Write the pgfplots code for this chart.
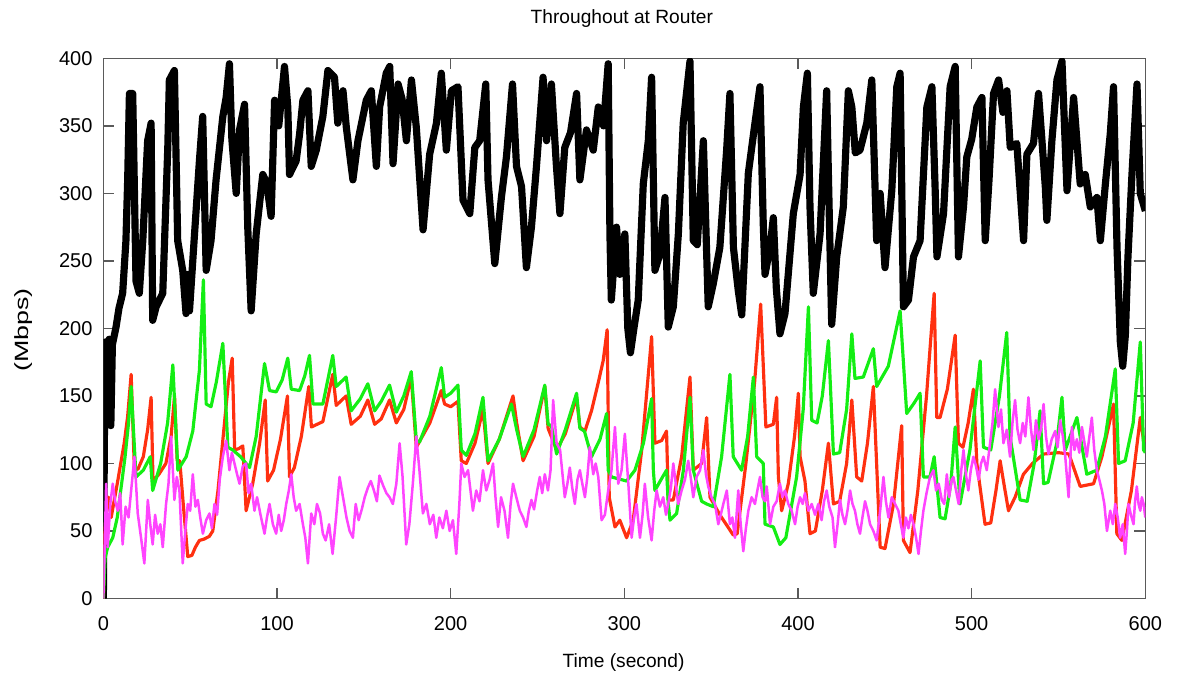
\documentclass[border=0pt]{standalone}
\usepackage{fontspec}
\setmainfont{Liberation Sans}
\usepackage{graphicx}
\usepackage{pgfplots}
\pgfplotsset{compat=1.18}
\definecolor{axisGray}{HTML}{5A5A5A}
\definecolor{flowRed}{HTML}{FF3010}
\definecolor{flowGreen}{HTML}{14EE14}
\definecolor{flowMag}{HTML}{FF44FF}

\begin{document}
\begin{tikzpicture}
\useasboundingbox (-62pt,-46pt) rectangle (644pt,359pt);
\begin{axis}[
  scale only axis,
  width=625pt,
  height=324pt,
  xmin=0, xmax=600,
  ymin=0, ymax=400,
  xtick={0,100,...,600},
  ytick={0,50,...,400},
  tick align=inside,
  major tick length=6.5pt,
  axis line style={draw=axisGray, line width=0.8pt},
  tick style={draw=axisGray, line width=0.8pt},
  /pgf/number format/assume math mode=true,
  xticklabel style={font=\fontsize{12}{14}\selectfont, yshift=-7.5pt},
  yticklabel style={font=\fontsize{12}{14}\selectfont, xshift=-3pt},
  line join=round,
]
% total throughput (black)
\addplot[black, line width=4.3pt] coordinates {
(0,0) (0.6,120) (1.2,190) (2.3,183) (3.3,192) (4.3,128) (5.2,188) (7.3,201) (9,215) (11.1,226) (13,265) (14,310) (15,374) (16.9,374) (18.8,235) (20.7,226) (22.7,265) (25.5,339) (27.5,352) (28.4,206) (30.4,216) (34.2,226) (37.1,334) (38,384) (40.9,391) (42.8,265) (45.7,243) (47.6,211) (48.6,240) (49.6,213) (52.4,268) (55.3,324) (57.2,357) (59.2,243) (62,265) (64.9,310) (68.8,357) (70.7,371) (72.6,396) (74,340) (76.5,300) (78.4,347) (81.3,366) (83.2,273) (85.1,213) (88,270) (91.8,314) (94,308) (96.6,283) (98.6,369) (101,350) (104.3,394) (106.2,364) (107.2,314) (111,324) (113,344) (114.9,369) (117.8,376) (119.7,320) (122.6,332) (126.4,357) (129.3,391) (133.1,386) (135,352) (138,376) (139.9,349) (143.7,310) (146.6,339) (151.4,369) (154.3,376) (157.2,320) (159.1,364) (162.9,389) (164.9,394) (166.8,322) (169.7,381) (172,370) (174.5,339) (177.4,384) (180.2,349) (184.1,273) (187.9,329) (191.8,352) (194.6,389) (197.5,332) (200.4,376) (204.2,379) (207.1,295) (211,285) (213.9,334) (216.7,339) (220.2,381) (221.5,310) (225.4,248) (229.2,297) (232.1,327) (235.6,381) (237.9,320) (240.8,305) (243.6,245) (246.5,275) (249.4,320) (253.2,386) (255.2,339) (258,381) (260.9,320) (262.9,285) (265.7,334) (269,345) (272.5,374) (274.4,310) (278.2,347) (282.1,332) (285,364) (288,350) (290.7,396) (291.7,270) (292.5,221) (295.5,275) (297.4,240) (300.3,270) (302,200) (303.5,182) (305.5,200) (308,221) (310.9,307) (313.8,339) (315.7,386) (317.6,243) (320.5,255) (323.4,297) (325.3,201) (328.2,216) (331.1,270) (333.9,352) (337.8,398) (339.7,265) (342,262) (345.5,339) (348.3,216) (351.2,233) (355,260) (358.9,332) (360.8,374) (362.8,260) (365.6,228) (367.6,210) (371.4,315) (375,350) (378.1,379) (380,277) (381,240) (383.9,260) (385.8,282) (387.5,230) (389.6,196) (392.5,211) (397.3,285) (401.2,314) (403.1,364) (405.4,389) (406.9,290) (408.8,226) (412.7,270) (416.5,376) (417.5,314) (419.4,203) (422.3,253) (426.1,290) (429,376) (431,364) (433,330) (435.7,332) (439.6,352) (442.5,384) (445.3,265) (447.3,300) (450.1,245) (454,302) (456.9,379) (458.8,389) (460.7,216) (463.6,221) (466.5,253) (470.3,265) (474.2,364) (477.1,379) (479,302) (480,253) (483.8,285) (487.6,379) (490.5,394) (492.4,253) (495.3,290) (497.2,327) (500,340) (503,364) (505.9,371) (507.8,265) (510,310) (512.6,374) (515.5,384) (518,360) (520.3,376) (522.2,334) (526,337) (529.9,265) (531.8,329) (535.6,337) (538.5,374) (542.4,305) (543.3,280) (546.2,339) (549.1,384) (552,398) (554.9,302) (558.7,371) (562.5,307) (565.4,314) (568.3,290) (572.1,297) (574.1,265) (577,307) (579.8,344) (581.7,379) (583.7,260) (585.6,190) (587,172) (588.5,195) (590,253) (592.3,314) (595.2,381) (597.1,300) (600,287)
};
% flow 1 (red)
\addplot[flowRed, line width=1.9pt] coordinates {
(0,0) (0.8,45) (1.5,62) (3,75) (4.5,60) (6.3,73) (8,85) (10,100) (12,115) (14,135) (16,166) (17.9,95) (20,96) (23,105) (25.5,125) (27.5,149) (28.6,87) (32,92) (36,100) (39,120) (41,150) (42.5,102) (44,102) (46,70) (48.6,31) (51,32) (53,38) (55.3,43) (58,44) (61,46) (63,50) (66,80) (69,120) (72,160) (74.2,178) (75.6,110) (78,111) (80.3,113) (82.2,65) (86,85) (90,115) (93.2,147) (94.6,87) (98,95) (102,118) (106,150) (107.2,90) (110,97) (114,120) (118.3,157) (119.8,127)
(126.4,131) (132.1,166) (134.1,143) (139.8,150) (142.7,129) (148,135) (152.3,147) (156.2,129) (160,133) (164.8,147) (168.7,130) (173,140) (177.3,164) (180.2,112) (188,130) (194.6,154) (196.5,144) (200,142) (204.2,146) (206.1,102) (209,100) (214,115) (218.6,140) (221.5,100) (228,118) (235.9,150) (238,130) (241.7,102)
(248,120) (254.2,157) (256.1,126) (261,110) (266,122) (272.5,149) (274.4,127) (277.3,124) (281.1,139) (285,160) (287.8,176) (290.1,199) (291.3,75) (294.6,53) (297.4,58) (301.3,45) (305.1,58) (310,110) (315.7,194) (317.6,115) (321.5,117) (324.3,124) (325.3,73) (328.2,73) (333,105) (337.8,164) (339.7,95) (344.5,100) (347.4,134) (349.3,75) (355,62) (362.7,47) (365,48) (370,100) (375,160) (378.5,218) (381.5,127) (385.8,129) (387.7,149) (388.7,90) (390.6,65) (394.4,85) (398,120) (400.2,152) (401.2,105) (404,87) (406.9,48) (410,50) (414,80) (417.5,115) (420.4,70) (424,72) (428,100) (431,147) (433.8,90) (436.7,87) (440,115) (443.4,157) (447.3,38) (450.1,37) (455,70) (459.7,128) (460.7,43) (464.5,34) (469,80) (474,150) (478.4,226) (479.9,134) (481.8,134) (486,155) (490.5,195) (492.4,115) (495,112) (498,130) (501,155) (503,100) (507.7,55) (511,56) (514,80) (516.4,102) (518.3,87) (521.2,65) (525,75) (529.8,92) (535,100) (541.4,107) (550,108) (556,107) (562.5,83) (570.2,85) (575,105) (581.7,144) (583.6,48) (586.5,43) (592,80) (597.1,134) (599,117) (600,116)
};
% flow 2 (green)
\addplot[flowGreen, line width=1.9pt] coordinates {
(0,0) (1,30) (2.5,38) (5.4,45) (8,60) (10,80) (12.5,105) (14.5,130) (16,157) (18.8,90) (23,95) (27,105) (28.4,80) (33,100) (37,130) (40,173) (42.9,95) (47.7,105) (51.5,124) (55.3,169) (57.6,236) (59.2,144) (62,142) (65,160) (68.8,189) (71.7,112) (74.5,110) (79,105) (84.2,97) (88,120) (92.8,174) (95.7,154) (99.5,153) (103,162) (106.2,178) (108.2,155) (113,154) (116,165) (118.7,180) (120.7,144)
(126.4,144) (132.1,180) (134.1,157) (139.8,164) (142.7,139) (148,148) (152.3,159) (156.2,139) (160,146) (164.8,158) (168.7,138) (173,150) (177.3,168) (180.2,117) (182.1,116) (188,135) (194.6,171) (196.5,149) (200,152) (204.2,158) (206.1,110) (209,106) (214,122) (218.6,149) (221.5,102) (228,118) (235,144) (238,125) (241.7,105)
(248,125) (254.2,158) (256.1,129) (258,128) (261,107) (266,125) (272.5,152) (274.4,126) (277,124) (281.1,105) (286,118) (289.8,137) (290.7,95) (292.6,90) (301.3,87) (306.1,95) (311,115) (315.7,148) (316.7,95) (317.6,80) (322,90) (324.3,95) (325.3,70) (326.3,58) (330.1,63) (334,95) (337.8,149) (339.7,95) (344.5,72) (347.4,70) (351.2,68) (356,105) (360.8,166) (362.7,105) (367.5,95) (371,120) (374.3,164) (376.2,105) (380,100) (381,55) (385.8,53) (389.6,40) (393,45) (399.2,90) (403,140) (406,216) (407.9,132) (411,130) (414,150) (417.5,191) (420.4,107) (424,108) (428,140) (431,196) (432.8,163) (437.6,164) (443.4,185) (445.3,157) (452,172) (458.8,213) (462.6,137) (467,145) (470.3,152) (472.2,90) (476,90) (478.4,105) (481.8,60) (484.7,59) (488,85) (490.5,127) (493.3,70) (499,110) (504.9,176) (506.8,112) (511,110) (516,150) (520.2,197) (522.1,120) (527.9,73) (532,72) (536,100) (539.4,139) (541.4,85) (544,86) (549,115) (552,149) (553.9,110) (560.6,134) (566.3,92) (572,95) (577,120) (582.7,170) (584.6,100) (588.4,102) (593,130) (597.1,190) (599,110) (600,108)
};
% flow 3 (magenta)
\addplot[flowMag, line width=1.5pt] coordinates {
(0,0) (0.8,40) (1.6,85) (2.5,38) (4,70) (5.4,85) (6.8,72) (8.3,65) (9.7,78) (11.1,40) (12.8,68) (14.5,60) (16,80) (17.9,105) (19.8,63) (21.7,45) (23.6,26) (25.6,73) (27,55) (28.4,40) (29.8,62) (31.3,48) (32.8,55) (34.2,38) (36.1,70) (37.5,85) (39,120) (40.9,73) (42.3,90) (43.8,80) (45.7,26) (47.2,50) (48.6,70) (50,65) (51.5,92) (53,68) (54.4,73) (55.8,60) (57.3,48) (59.2,58) (61.1,63) (62.5,52) (64,70) (65.5,62) (67,88) (68.8,105) (70.7,117) (72.6,95) (74,108) (75.5,100) (77,92) (78.4,85) (80.3,98) (82.2,100) (83.6,78) (85.1,85) (87,65) (88.5,75) (90.5,62) (92.8,48) (94.2,60) (95.7,70) (97.6,55) (99.5,48) (101,62) (102.4,50) (103.9,58) (105.3,70) (106.8,80) (108.2,92) (109.6,75) (111,65) (113,70) (114.9,55) (116.3,45) (117.8,26) (119.7,63)
(121.5,55) (123,70) (124.8,63) (126.4,48) (128,43) (130,55) (132,33) (134,60) (136,90) (138,75) (140,60) (141.8,50) (143.7,45) (145.3,70) (147,58) (148.8,66) (150.5,75) (152.3,82) (154,87) (155.8,80) (157.5,72) (159,91) (161,84) (163,78) (164.8,75) (166.7,70) (168.7,85) (170.6,115) (172.3,90) (174.4,40) (176.2,55) (178.2,85) (180.2,120) (182,95) (184,63) (186,70) (188,55) (190,62) (191.7,45) (193.5,60) (195.5,52) (197.5,65) (199.4,50) (201.3,58) (203.2,33) (205,70) (206.1,100) (208,90) (210,95) (212.8,65) (214.7,80) (216.6,72) (218.6,95) (220.5,80) (222.4,88) (224.4,100) (225.8,75) (227.3,53) (229,75) (231,65) (233,45) (234.5,70) (235.9,85) (237.8,75) (239.8,65)
(241.7,60) (243.6,53) (245,65) (246.5,73) (248,66) (249.8,80) (251.3,90) (252.7,78) (254.2,92) (256,80) (257.5,95) (259,147) (261,115) (263,110) (265.7,75) (267.2,85) (268.6,97) (270,82) (271.5,70) (273,88) (274.4,95) (275.8,85) (277.3,75) (278.7,90) (280.1,112) (282.1,92) (283.5,100) (285,90) (286.9,58) (288.8,62) (290.7,80) (292.6,95) (294.6,127) (296.5,85) (298.4,95) (300.3,122) (302.3,85) (304.2,45) (305.6,60) (307,70) (309,45) (310.5,62) (311.8,85) (313.7,60) (315.7,43) (317.2,65) (318.6,80) (320.5,68) (322.4,75) (324,62) (325.3,70) (326.8,82) (328.2,100) (329.6,85) (331,70) (333,80) (334.9,88) (336.8,102) (338.2,90) (339.7,75) (341.6,90) (343.6,95) (345.5,110) (347,92) (348.3,83) (350.2,75) (352.2,70) (354.1,55) (355.5,62) (357,70) (359,80) (360.8,55)
(362.2,60) (363.7,45) (365.6,80) (367,55) (368.5,35) (370,52) (371.4,65) (373.3,75) (375.2,70) (376.6,80) (378.1,90) (379.6,75) (381,72) (382,83) (383.9,55) (385.8,68) (387.7,72) (389.6,85) (391,75) (392.5,80) (394.4,70) (396.3,65) (398.3,55) (399.8,68) (401.2,75) (402.7,70) (404,78) (406,65) (407.9,70) (409.8,62) (411.7,70) (413.6,58) (415,72) (416.5,80) (418,68) (419.9,60) (421.3,38) (422.8,55) (424.2,73) (425.6,62) (427.1,55) (428.6,66) (430,80) (431.4,70) (432.8,65) (434.2,55) (435.7,48) (437.1,60) (438.6,72) (440,65) (441.5,55) (443.4,50) (445.3,43) (447.3,65) (449.2,90) (450.6,72) (452.1,60) (454,75) (455.9,70) (457.8,65) (459.2,55) (460.7,45) (462.1,60) (463.6,52) (465,62) (466.5,55) (468,45) (469.4,33) (470.8,50) (472.2,65) (474,78) (476,90) (478,95) (479.5,80) (481,85) (482.8,73)
(484.2,70) (485.7,92) (487,75) (488.5,88) (489.5,90) (491,80) (492.5,70) (494,95) (495.3,110) (496.7,92) (498.1,80) (499.5,95) (501,105) (502.5,98) (504,88) (505.4,100) (506.8,105) (508.7,95) (510.6,115) (512,130) (513.5,155) (515.4,127) (516.9,140) (518.3,115) (520.2,125) (522.1,105) (523.5,130) (525,147) (526.4,125) (527.9,115) (529.4,130) (530.9,120) (532.7,149) (534.2,125) (535.6,110) (537,132) (538.5,118) (540,126) (541.4,144) (542.8,120) (544.2,107) (546.1,118) (548.1,124) (549.5,112) (551,132) (552.5,120) (553.9,105) (555.8,75) (557.7,127) (559.2,110) (560.6,118) (562,108) (563.5,127) (565,115) (566.3,105) (567.8,120) (569.2,134) (570.6,110) (572.1,95) (573.5,88) (575,80) (576.4,70) (577.9,50) (579.8,65) (581.3,55) (582.7,70) (584.1,60) (585.5,45) (587,55) (588.4,33) (589.4,50) (590.3,70) (591.7,62) (593.2,55) (594.1,72) (595.1,83) (596.1,70) (597.1,65) (598,75) (599,70) (600,60)
};
\end{axis}
\node[font=\fontsize{11.5}{13}\selectfont] at (311pt,348pt) {Throughout at Router};
\node[font=\fontsize{11.5}{13}\selectfont] at (312pt,-38.4pt) {Time (second)};
\node[font=\fontsize{11.5}{13}\selectfont, rotate=90] at (-48pt,161pt) {\scalebox{1.4}[1]{(Mbps)}};
\end{tikzpicture}
\end{document}
